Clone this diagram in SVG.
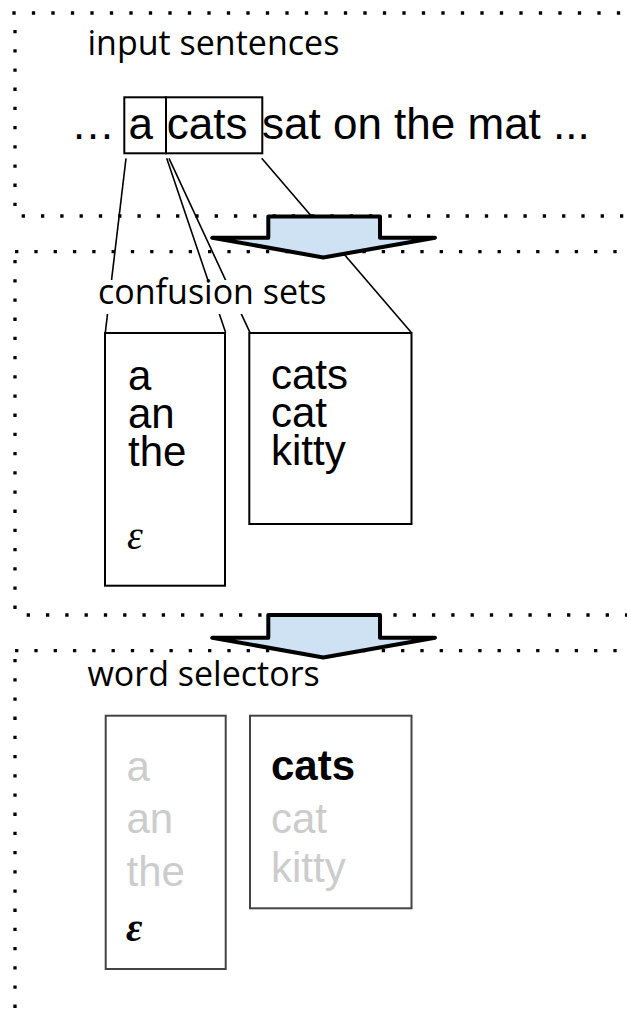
<svg xmlns="http://www.w3.org/2000/svg" width="627" height="1012" viewBox="0 0 627 1012">
  <defs>
    <style>
      .dotsH { fill: none; stroke: #000; stroke-width: 3.3; stroke-dasharray: 3.3 16; }
      .dotsV { fill: none; stroke: #000; stroke-width: 3.3; stroke-dasharray: 3.3 15.9; }
      .label { font-family: "Open Sans", "Noto Sans", sans-serif; font-size: 34px; fill: #000; }
      .sent { font-family: "Liberation Sans", Arial, sans-serif; font-size: 44px; fill: #000; }
      .word { font-family: "Liberation Sans", Arial, sans-serif; font-size: 42px; fill: #000; }
      .dim { fill: #cccccc; }
      .eps { font-family: "Liberation Serif", "Times New Roman", serif; font-style: italic; font-size: 40px; fill: #000; }
      .box { fill: #fff; stroke: #000; stroke-width: 2; }
      .selbox { fill: #fff; stroke: #444; stroke-width: 2; }
      .link { fill: none; stroke: #000; stroke-width: 1.6; }
      .flow { fill: #cfe2f3; stroke: #000; stroke-width: 4; stroke-linejoin: round; }
    </style>
  </defs>
  <rect width="627" height="1012" fill="#fff"/>

  <!-- dotted stage frames (open to the right) -->
  <g id="frames">
    <path class="dotsH" d="M12.35,13 H627" style="stroke-dasharray:3.3 16.2"/>
    <path class="dotsV" d="M15,30 V207"/>
    <path class="dotsH" d="M21.65,216 H627"/>
    <path class="dotsH" d="M15.05,251.7 H627"/>
    <path class="dotsV" d="M15,260 V611"/>
    <path class="dotsH" d="M26.65,615 H627"/>
    <path class="dotsH" d="M15.05,650.7 H627"/>
    <path class="dotsV" d="M15,659 V1012"/>
  </g>

  <!-- stage labels -->
  <g id="label-input">
    <text class="label" x="87.5" y="55">input sentences</text>
  </g>

  <!-- connectors from the sentence words to their confusion sets -->
  <g id="connectors">
    <line class="link" x1="126" y1="158.3" x2="105.3" y2="332.7"/>
    <line class="link" x1="166.7" y1="158.3" x2="225.7" y2="332.7"/>
    <line class="link" x1="169" y1="158.3" x2="250" y2="332.7"/>
    <line class="link" x1="261.7" y1="158.3" x2="411.5" y2="332.7"/>
  </g>

  <g id="label-confusion">
    <rect x="97" y="280" width="235" height="34" fill="#fff"/>
    <text class="label" x="98" y="304.3">confusion sets</text>
  </g>

  <g id="label-selectors">
    <text class="label" x="87.5" y="686">word selectors</text>
  </g>

  <!-- block arrows between stages -->
  <g id="arrow-1">
    <path class="flow" d="M268.3,216.5 H380 V237.7 H435 L323.3,257.5 L212.3,237.7 H268.3 Z"/>
  </g>
  <g id="arrow-2">
    <path class="flow" d="M268.3,615 H380 V637.7 H435 L323.3,657.5 L212.3,637.7 H268.3 Z"/>
  </g>

  <!-- input sentence with highlighted words -->
  <g id="sentence">
    <text class="sent" x="71" y="139">…</text>
    <rect x="124.3" y="97.3" width="41.7" height="56" fill="none" stroke="#000" stroke-width="2"/>
    <rect x="166" y="97.3" width="96.3" height="56" fill="none" stroke="#000" stroke-width="2"/>
    <text class="sent" x="128.4" y="139">a</text>
    <text class="sent" x="166.8" y="139">cats</text>
    <text class="sent" x="262" y="139">sat on the mat ...</text>
  </g>

  <!-- confusion sets -->
  <g id="confusion-a">
    <rect class="box" x="105" y="333" width="120" height="252.7"/>
    <text class="word"><tspan x="128" y="390">a</tspan><tspan x="128" y="428">an</tspan><tspan x="128" y="466">the</tspan></text>
    <text class="eps" x="127" y="549">ε</text>
  </g>
  <g id="confusion-cats">
    <rect class="box" x="249.3" y="333" width="162.2" height="191"/>
    <text class="word"><tspan x="271" y="388.5">cats</tspan><tspan x="271" y="426.5">cat</tspan><tspan x="271" y="464.5">kitty</tspan></text>
  </g>

  <!-- word selectors -->
  <g id="selector-a">
    <rect class="selbox" x="105.7" y="715.7" width="120" height="253.3"/>
    <text class="word dim"><tspan x="126.5" y="781">a</tspan><tspan x="126.5" y="833">an</tspan><tspan x="126.5" y="886">the</tspan></text>
    <text class="eps" x="126" y="941" font-weight="bold">ε</text>
  </g>
  <g id="selector-cats">
    <rect class="selbox" x="250" y="715.7" width="161.5" height="192.6"/>
    <text class="word"><tspan x="271" y="780" font-weight="bold">cats</tspan><tspan x="271" y="833" class="dim">cat</tspan><tspan x="271" y="882" class="dim">kitty</tspan></text>
  </g>
</svg>
